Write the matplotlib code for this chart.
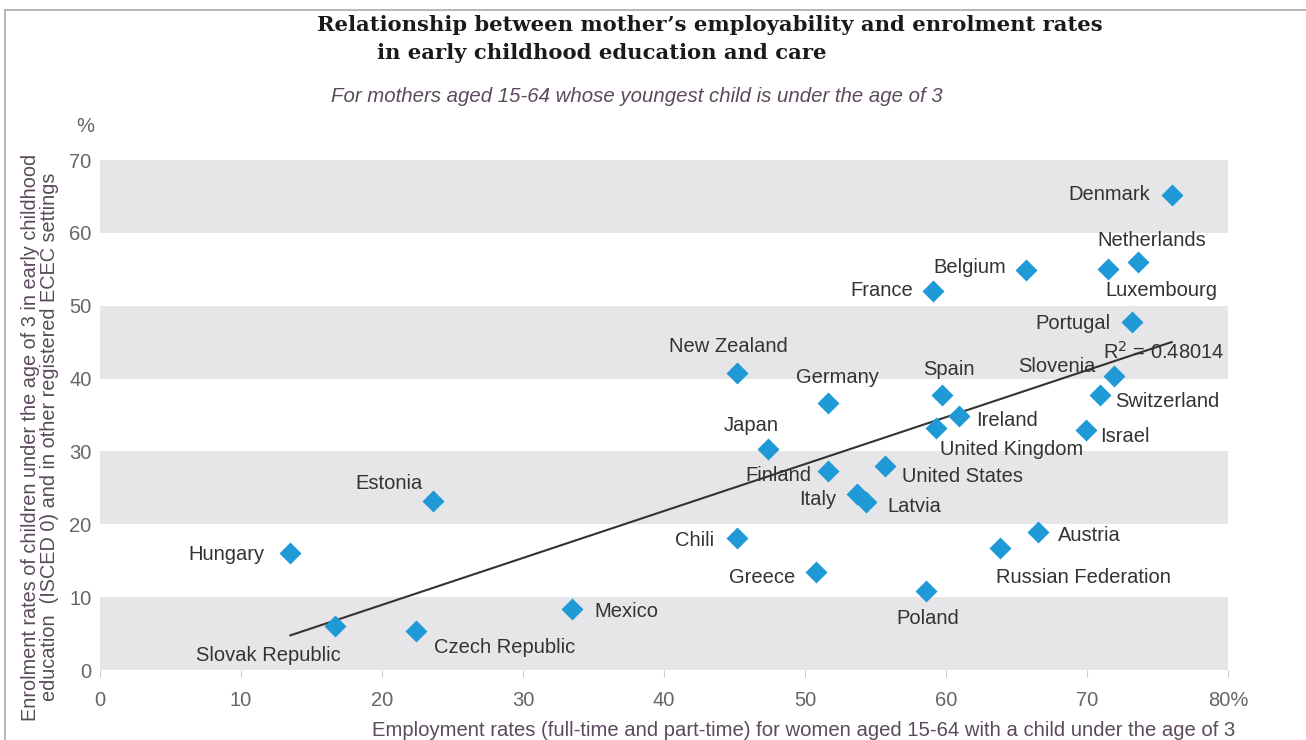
import numpy as np
import matplotlib
matplotlib.use("Agg")
import matplotlib.pyplot as plt
from matplotlib.patches import Rectangle

# --- data ---
countries = ["Denmark", "Netherlands", "Luxembourg", "Belgium", "France", "Portugal",
             "New Zealand", "Slovenia", "Spain", "Germany", "Switzerland", "Ireland",
             "United Kingdom", "Israel", "Japan", "Finland", "United States", "Italy",
             "Latvia", "Estonia", "Chili", "Austria", "Russian Federation", "Hungary",
             "Greece", "Poland", "Mexico", "Slovak Republic", "Czech Republic"]
employment = [76.0, 73.6, 71.5, 65.7, 59.1, 73.2,
              45.2, 71.9, 59.7, 51.6, 70.9, 60.9,
              59.3, 69.9, 47.4, 51.6, 55.7, 53.7,
              54.3, 23.6, 45.2, 66.5, 63.8, 13.5,
              50.8, 58.6, 33.5, 16.7, 22.4]
enrolment = [65.2, 56.0, 55.0, 54.9, 52.0, 47.7,
             40.7, 40.3, 37.7, 36.6, 37.7, 34.8,
             33.2, 32.9, 30.3, 27.3, 28.0, 24.1,
             23.0, 23.2, 18.1, 18.9, 16.7, 16.0,
             13.4, 10.8, 8.4, 6.0, 5.3]
r2_text = "R$^2$ = 0.48014"
x_ticks = [0, 10, 20, 30, 40, 50, 60, 70, 80]
x_ticklabels = ["0", "10", "20", "30", "40", "50", "60", "70", "80%"]
y_ticks = [0, 10, 20, 30, 40, 50, 60, 70]

# label placement: (dx px, dy px, ha)
label_pos = {
    "Denmark": (-21, 0, "right"), "Netherlands": (14, 22, "center"),
    "Luxembourg": (-3, -21, "left"), "Belgium": (-20, 3, "right"),
    "France": (-20, 1, "right"), "Portugal": (-22, -1, "right"),
    "New Zealand": (-9, 27, "center"), "Slovenia": (-18, 10, "right"),
    "Spain": (7, 26, "center"), "Germany": (10, 26, "center"),
    "Switzerland": (15, -6, "left"), "Ireland": (17, -4, "left"),
    "United Kingdom": (4, -21, "left"), "Israel": (15, -6, "left"),
    "Japan": (-17, 24, "center"), "Finland": (-16, -4, "right"),
    "United States": (17, -10, "left"), "Italy": (-21, -5, "right"),
    "Latvia": (22, -4, "left"), "Estonia": (-44, 17, "center"),
    "Chili": (-23, -2, "right"), "Austria": (20, -3, "left"),
    "Russian Federation": (-4, -29, "left"), "Hungary": (-26, -1, "right"),
    "Greece": (-21, -5, "right"), "Poland": (1, -27, "center"),
    "Mexico": (22, -3, "left"), "Slovak Republic": (-67, -29, "center"),
    "Czech Republic": (18, -16, "left"),
}

plt.rcParams["font.family"] = ["Liberation Sans", "DejaVu Sans"]

fig = plt.figure(figsize=(13.06, 7.40), dpi=100)
ax = fig.add_axes([100 / 1306, 70 / 740, 1128 / 1306, 510 / 740])
ax.set_xlim(0, 80)
ax.set_ylim(0, 70)

# alternating bands
for lo in (0, 20, 40, 60):
    ax.axhspan(lo, lo + 10, color="#e6e6e8", lw=0, zorder=0)

# trend line
coef = np.polyfit(employment, enrolment, 1)
xs = np.array([min(employment), max(employment)])
ax.plot(xs, np.polyval(coef, xs), color="#333333", lw=1.5, zorder=2)

ax.plot(employment, enrolment, "D", ms=11, color="#1f9ad6", mec="none",
        zorder=3, clip_on=False)

for name, x, y in zip(countries, employment, enrolment):
    dx, dy, ha = label_pos[name]
    ax.annotate(name, (x, y), xytext=(dx, dy), textcoords="offset pixels",
                ha=ha, va="center", fontsize=14.5, color="#333333", zorder=4)

ax.text(0.997, 0.624, r2_text, transform=ax.transAxes, ha="right", va="center",
        fontsize=14.5, color="#333333", zorder=4)

for s in ax.spines.values():
    s.set_visible(False)
ax.set_xticks(x_ticks)
ax.set_xticklabels(x_ticklabels)
ax.set_yticks(y_ticks)
ax.tick_params(axis="x", length=5, color="#cccccc", labelsize=14.5, labelcolor="#666666", pad=10)
ax.tick_params(axis="y", length=0, labelsize=14.5, labelcolor="#666666", pad=6)

# texts
fig.text(317 / 1306, 1 - 25 / 740, "Relationship between mother\u2019s employability and enrolment rates",
         family="DejaVu Serif", weight="bold", fontsize=15.2, color="#1a1a1a", va="center")
fig.text(377 / 1306, 1 - 53 / 740, "in early childhood education and care",
         family="DejaVu Serif", weight="bold", fontsize=15.2, color="#1a1a1a", va="center")
fig.text(637 / 1306, 1 - 97 / 740, "For mothers aged 15-64 whose youngest child is under the age of 3",
         style="italic", fontsize=14.7, color="#5a4a5c", ha="center", va="center")
fig.text(85 / 1306, 1 - 127 / 740, "%", fontsize=14.5, color="#666666", ha="center", va="center")
fig.text(40 / 1306, 1 - 437 / 740,
         "Enrolment rates of children under the age of 3 in early childhood\n"
         "education  (ISCED 0) and in other registered ECEC settings",
         rotation=90, fontsize=14.3, color="#5a4a5c", ha="center", va="center",
         linespacing=1.0, multialignment="center")
fig.text(804 / 1306, 1 - 730 / 740,
         "Employment rates (full-time and part-time) for women aged 15-64 with a child under the age of 3",
         fontsize=14.6, color="#5a4a5c", ha="center", va="center")

# frame
fig.patches.append(Rectangle((5 / 1306, -0.05), 1.1, 1 - 10 / 740 + 0.05,
                             transform=fig.transFigure, fill=False,
                             edgecolor="#aaaaaa", lw=1.2))

fig.savefig("out.png", dpi=100)
